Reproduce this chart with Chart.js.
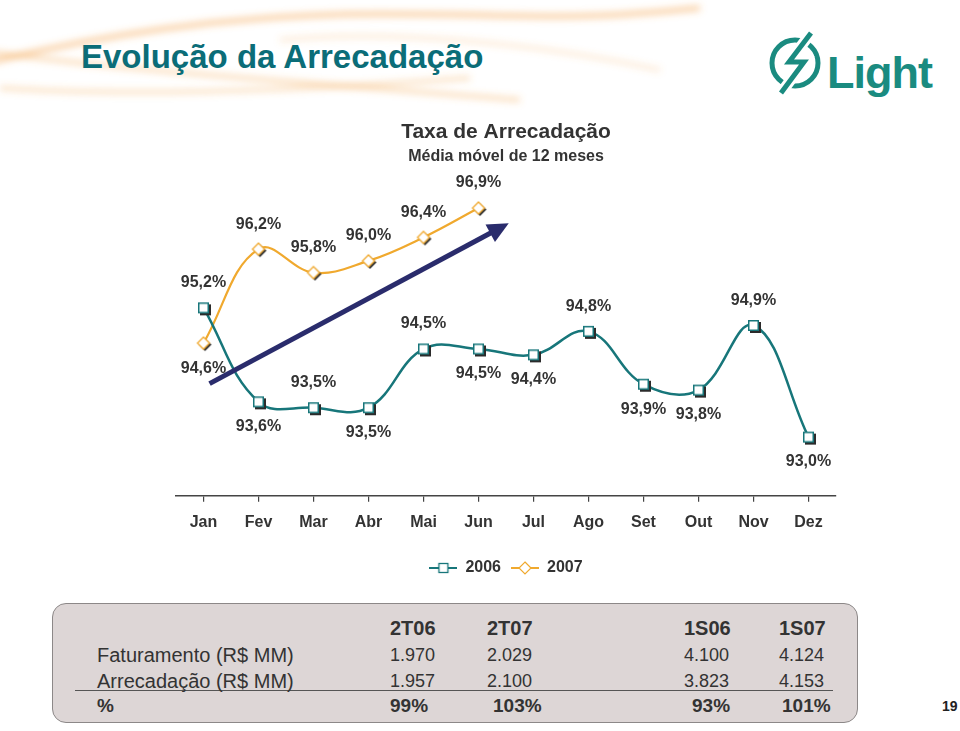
<!DOCTYPE html>
<html>
<head>
<meta charset="utf-8">
<script src="https://cdn.jsdelivr.net/npm/chart.js@4"></script>
<style>
  html,body{margin:0;padding:0;}
  body{width:960px;height:731px;position:relative;overflow:hidden;background:#fff;font-family:"Liberation Sans",Arial,Helvetica,sans-serif;color:#333;}
  #swoosh{position:absolute;left:0;top:0;}
  #mainTitle{position:absolute;left:81px;top:38px;line-height:38px;font-size:33px;font-weight:bold;color:#0b6d78;white-space:nowrap;}
  #logo{position:absolute;left:0;top:0;}
  #chartBox{position:absolute;left:0;top:110px;width:960px;height:480px;}
  #tblBox{position:absolute;left:52px;top:603px;width:804px;height:118px;border:1.5px solid #8c8888;border-radius:14px;background:#ddd6d6;}
  .cell{position:absolute;line-height:24px;white-space:nowrap;color:#333;}
  .lbl{font-size:20px;}
  .hdr{font-size:20px;font-weight:bold;}
  .num{font-size:18px;}
  .pct{font-size:19px;font-weight:bold;}
  #sep{position:absolute;left:75px;top:690px;width:758px;border-top:1.5px solid #555;}
  #pageNo{position:absolute;left:942px;top:698px;font-size:14px;font-weight:bold;color:#222;}
</style>
</head>
<body>
<svg id="swoosh" width="960" height="110">
  <defs><filter id="blur"><feGaussianBlur stdDeviation="3.5"/></filter></defs>
  <g filter="url(#blur)" fill="none" stroke="#f3a24a">
    <path d="M -10 62 C 90 38, 220 14, 380 14 S 560 22, 700 8" stroke-width="6" opacity="0.45"/>
    <path d="M -10 52 C 120 70, 300 82, 520 100" stroke-width="5" opacity="0.35"/>
    <path d="M 0 88 C 120 96, 280 92, 470 78" stroke-width="5" opacity="0.3"/>
    <path d="M 280 40 C 380 30, 520 40, 660 70" stroke-width="4" opacity="0.25"/>
  </g>
</svg>
<div id="mainTitle">Evolução da Arrecadação</div>
<svg id="logo" width="960" height="110">
  <circle cx="795" cy="63" r="23" fill="none" stroke="#1a8b80" stroke-width="5"/>
  <polyline points="811,33 789,62 804,62 781,93" fill="none" stroke="#ffffff" stroke-width="11" stroke-linejoin="miter"/>
  <polyline points="811,33 789,62 804,62 781,93" fill="none" stroke="#1a8b80" stroke-width="5" stroke-linejoin="miter"/>
  <text x="827" y="88" font-family="Liberation Sans, Arial, sans-serif" font-weight="bold" font-size="45" fill="#1a8b80" letter-spacing="-1">Light</text>
</svg>
<div id="chartBox"><canvas id="c"></canvas></div>
<div id="tblBox"></div>
<div id="sep"></div>
<div id="tblText"></div>
<div id="pageNo">19</div>
<script>
// ---------- data ----------
const months = ['Jan','Fev','Mar','Abr','Mai','Jun','Jul','Ago','Set','Out','Nov','Dez'];
const rate2006 = [95.2, 93.6, 93.5, 93.5, 94.5, 94.5, 94.4, 94.8, 93.9, 93.8, 94.9, 93.0];
const rate2007 = [94.6, 96.2, 95.8, 96.0, 96.4, 96.9, null, null, null, null, null, null];
const side2006 = ['above','below','above','below','above','below','below','above','below','below','above','below'];
const side2007 = ['below','above','above','above','above','above'];
// trend arrow: [category index, value]
const trendFrom = [0.11, 93.91];
const trendTo = [5.55, 96.64];

const tblHeaders = ['2T06','2T07','1S06','1S07'];
const rowLabels = ['Faturamento (R$ MM)','Arrecadação (R$ MM)','%'];
const faturamento = ['1.970','2.029','4.100','4.124'];
const arrecadacao = ['1.957','2.100','3.823','4.153'];
const percentual = ['99%','103%','93%','101%'];

// ---------- table ----------
(function(){
  const host = document.getElementById('tblText');
  const colX = [390, 487, 684, 779];
  const pctX = [390, 493, 692, 782];
  const add = (txt, cls, x, cy) => {
    const s = document.createElement('div');
    s.className = 'cell ' + cls; s.textContent = txt;
    s.style.left = x + 'px'; s.style.top = (cy - 12) + 'px';
    host.appendChild(s);
  };
  tblHeaders.forEach((t,i)=>add(t,'hdr',colX[i],628));
  add(rowLabels[0],'lbl',97,655);
  faturamento.forEach((t,i)=>add(t,'num',colX[i],655));
  add(rowLabels[1],'lbl',97,681);
  arrecadacao.forEach((t,i)=>add(t,'num',colX[i],681));
  add(rowLabels[2],'pct',97,706);
  percentual.forEach((t,i)=>add(t,'pct',pctX[i],706));
})();

// ---------- markers ----------
const TEAL = '#17767a';
const GOLD = '#f0a92e';
function squareMarker(){
  const c = document.createElement('canvas'); c.width = 19; c.height = 19;
  const g = c.getContext('2d');
  g.fillStyle = '#2b2b2b'; g.fillRect(6,6,11,11);
  g.fillStyle = '#fff'; g.fillRect(4,4,11,11);
  g.strokeStyle = TEAL; g.lineWidth = 1.5; g.strokeRect(4.75,4.75,9.5,9.5);
  return c;
}
function diamondPath(g,cx,cy,r){
  g.beginPath(); g.moveTo(cx,cy-r); g.lineTo(cx+r,cy); g.lineTo(cx,cy+r); g.lineTo(cx-r,cy); g.closePath();
}
function diamondMarker(){
  const c = document.createElement('canvas'); c.width = 18; c.height = 18;
  const g = c.getContext('2d');
  g.fillStyle = '#2b2b2b'; diamondPath(g,10.5,10.5,6.5); g.fill();
  g.fillStyle = '#fff'; diamondPath(g,9,9,6.5); g.fill();
  g.strokeStyle = GOLD; g.lineWidth = 1.3; diamondPath(g,9,9,6); g.stroke();
  return c;
}
function legendIcon(kind){
  const c = document.createElement('canvas'); c.width = 28; c.height = 16;
  const g = c.getContext('2d');
  g.strokeStyle = kind === 'square' ? TEAL : GOLD; g.lineWidth = 2;
  g.beginPath(); g.moveTo(0,8); g.lineTo(28,8); g.stroke();
  g.fillStyle = '#fff';
  if (kind === 'square'){ g.fillRect(9,3,10,10); g.strokeStyle = TEAL; g.lineWidth = 1.3; g.strokeRect(9.5,3.5,9,9); }
  else { diamondPath(g,14,8,6); g.fill(); g.strokeStyle = GOLD; g.lineWidth = 1.2; g.stroke(); }
  return c;
}
const icons = [legendIcon('square'), legendIcon('diamond')];
const sides = [side2006, side2007];

const fmt = v => v.toFixed(1).replace('.', ',') + '%';

const arrowPlugin = {
  id: 'trendArrow',
  afterDatasetsDraw(chart){
    const {ctx, scales:{x, y}} = chart;
    const x1 = x.getPixelForValue(trendFrom[0]), y1 = y.getPixelForValue(trendFrom[1]);
    const x2 = x.getPixelForValue(trendTo[0]), y2 = y.getPixelForValue(trendTo[1]);
    const ang = Math.atan2(y2 - y1, x2 - x1);
    const headLen = 21, headW = 10;
    const bx = x2 - headLen * Math.cos(ang), by = y2 - headLen * Math.sin(ang);
    ctx.save();
    ctx.strokeStyle = '#2a2c6c'; ctx.fillStyle = '#2a2c6c'; ctx.lineWidth = 5;
    ctx.beginPath(); ctx.moveTo(x1,y1); ctx.lineTo(bx + 2*Math.cos(ang), by + 2*Math.sin(ang)); ctx.stroke();
    ctx.beginPath();
    ctx.moveTo(x2,y2);
    ctx.lineTo(bx + headW*Math.sin(ang), by - headW*Math.cos(ang));
    ctx.lineTo(bx - headW*Math.sin(ang), by + headW*Math.cos(ang));
    ctx.closePath(); ctx.fill();
    ctx.restore();
  }
};
const labelPlugin = {
  id: 'valueLabels',
  afterDatasetsDraw(chart){
    const ctx = chart.ctx;
    ctx.save();
    ctx.font = 'bold 16px "Liberation Sans", Arial, sans-serif';
    ctx.fillStyle = '#333';
    ctx.textAlign = 'center'; ctx.textBaseline = 'middle';
    chart.data.datasets.forEach((ds, di) => {
      const meta = chart.getDatasetMeta(di);
      meta.data.forEach((pt, i) => {
        const v = ds.data[i];
        if (v === null || v === undefined) return;
        const off = sides[di][i] === 'above' ? -25 : 25;
        ctx.fillText(fmt(v), pt.x, pt.y + off);
      });
    });
    ctx.restore();
  }
};

new Chart(document.getElementById('c'), {
  type: 'line',
  data: {
    labels: months,
    datasets: [
      { label: '2006', data: rate2006, borderColor: TEAL, borderWidth: 2.5, tension: 0.4,
        pointStyle: squareMarker(), pointRadius: 7, fill: false },
      { label: '2007', data: rate2007, borderColor: GOLD, borderWidth: 2.2, tension: 0.4,
        pointStyle: diamondMarker(), pointRadius: 7, fill: false }
    ]
  },
  options: {
    responsive: true, maintainAspectRatio: false, animation: false,
    layout: { padding: { left: 176, right: 124, top: 0, bottom: 4 } },
    scales: {
      x: {
        offset: true,
        grid: { drawOnChartArea: false, drawTicks: true, tickLength: 6, color: '#444', lineWidth: 1.2 },
        border: { display: true, color: '#444', width: 1.5 },
        ticks: { color: '#333', padding: 11, font: { family: '"Liberation Sans", Arial, sans-serif', size: 16, weight: 'bold' } },
        afterFit(scale){ scale.height += 7; }
      },
      y: { display: false, min: 92.0, max: 97.2 }
    },
    plugins: {
      title: { display: true, text: 'Taxa de Arrecadação', color: '#333',
        font: { family: '"Liberation Sans", Arial, sans-serif', size: 21, weight: 'bold' },
        padding: { top: 10, bottom: 2 } },
      subtitle: { display: true, text: 'Média móvel de 12 meses', color: '#333',
        font: { family: '"Liberation Sans", Arial, sans-serif', size: 16, weight: 'bold' },
        padding: { top: 0, bottom: 24 } },
      legend: { position: 'bottom',
        labels: { usePointStyle: true, pointStyleWidth: 28, color: '#333', padding: 10,
          font: { family: '"Liberation Sans", Arial, sans-serif', size: 16, weight: 'bold' },
          generateLabels(chart){
            return chart.data.datasets.map((ds, i) => ({
              text: ds.label, pointStyle: icons[i], datasetIndex: i, hidden: false,
              fillStyle: '#fff', strokeStyle: ds.borderColor, lineWidth: 0, fontColor: '#333'
            }));
          } } },
      tooltip: { enabled: false }
    }
  },
  plugins: [arrowPlugin, labelPlugin]
});
</script>
</body>
</html>
